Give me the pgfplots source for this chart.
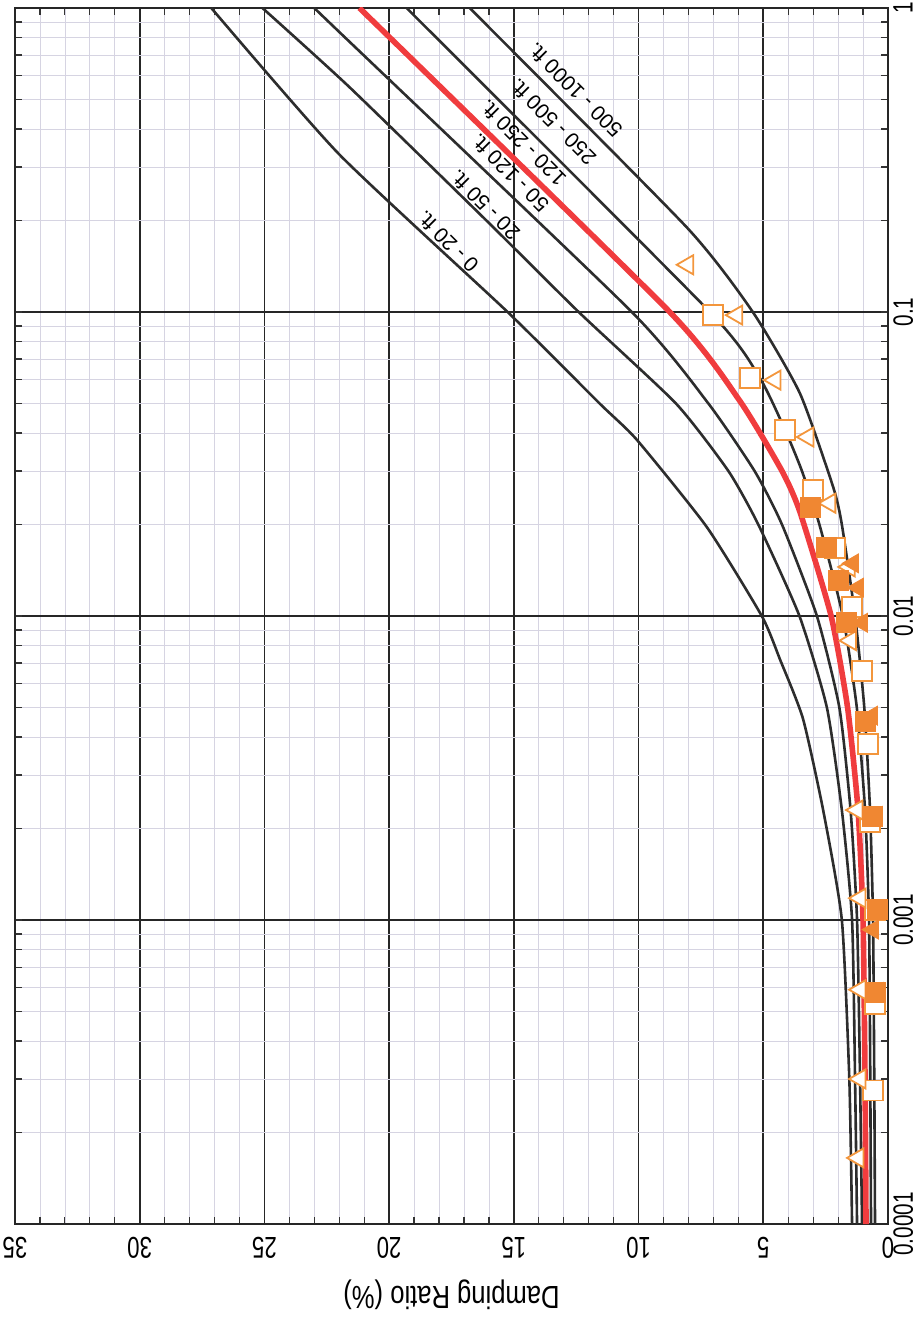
\documentclass[border=0pt]{standalone}
\usepackage{fontspec}
\setmainfont{Liberation Sans}
\newfontfamily\narrowtick{Liberation Sans}[FakeStretch=0.74]
\newfontfamily\narrowlab{Liberation Sans}[FakeStretch=0.8]
\usepackage{pgfplots}
\pgfplotsset{compat=1.18}
\definecolor{gridminor}{RGB}{214,212,226}
\definecolor{curvec}{RGB}{45,45,45}
\definecolor{redc}{RGB}{240,60,62}
\definecolor{orng}{RGB}{243,150,60}
\definecolor{orngf}{RGB}{240,135,50}
\begin{document}
\begin{tikzpicture}
\begin{axis}[
  scale only axis, width=436.5pt, height=608pt,
  x dir=reverse, xmin=0, xmax=35,
  ymode=log, ymin=1e-4, ymax=1,
  xtick={0,5,...,35}, minor x tick num=4,
  ytick={1e-4,1e-3,1e-2,1e-1,1},
  yticklabels={0.0001,0.001,0.01,0.1,1},
  yticklabel pos=right, ytick pos=both, xtick pos=both,
  /pgf/number format/assume math mode=true,
  xticklabel style={rotate=180, anchor=south, font=\narrowtick\fontsize{15}{17}\selectfont},
  yticklabel style={rotate=90, anchor=north, inner sep=1.5pt, font=\narrowtick\fontsize{14}{16}\selectfont},
  xticklabel shift=3pt,
  yticklabel shift=1pt,
  xlabel={Damping Ratio (\%)},
  xlabel style={rotate=180, anchor=south, font=\narrowlab\fontsize{16}{18}\selectfont},
  xlabel shift=4pt,
  grid=both,
  major grid style={black!85, line width=0.9pt},
  minor grid style={gridminor, line width=0.35pt},
  tick align=inside,
  major tick length=0pt,
  minor tick length=3.5pt,
  minor tick style={black!80, line width=0.6pt},
  axis line style={line width=1.4pt, black!85},
  curve/.style={curvec, line width=1.3pt, smooth, tension=0.35},
]
% 0-20 ft
\addplot[curve] table {
1.44 0.0001
1.55 0.0003
1.85 0.001
2.6 0.0023
3.41 0.0046
4.33 0.0072
5.06 0.01
7.26 0.0196
10.07 0.038
11.56 0.05
15.25 0.1
22.0 0.33
27.13 1
};
% 20-50 ft
\addplot[curve] table {
1.24 0.0001
1.32 0.0003
1.44 0.001
1.85 0.0023
2.45 0.005
3.55 0.01
5.2 0.02
6.4 0.03
8.5 0.05
12.4 0.1
16.1 0.2
21.6 0.55
25.08 1
};
% 50-120 ft
\addplot[curve] table {
1.04 0.0001
1.12 0.0003
1.24 0.001
1.5 0.0023
1.95 0.005
2.85 0.01
4.25 0.02
5.35 0.03
7.2 0.05
10.27 0.1
22.0 0.834
23.0 1
};
% 250-500 ft
\addplot[curve] table {
0.68 0.0001
0.71 0.0003
0.76 0.001
0.92 0.0023
1.25 0.005
1.81 0.01
2.75 0.02
3.45 0.03
4.13 0.041
5.14 0.0607
7.14 0.1
19.3 1
};
% 500-1000 ft
\addplot[curve] table {
0.52 0.0001
0.55 0.0003
0.6 0.001
0.72 0.0023
0.95 0.005
1.32 0.01
1.85 0.02
2.2 0.0266
3.53 0.054
5.42 0.1
8.07 0.19
16.77 1
};
% 120-250 ft (red)
\addplot[redc, line width=2.8pt, smooth, tension=0.35] table {
0.88 0.0001
0.92 0.0003
1.0 0.001
1.2 0.0023
1.62 0.005
2.28 0.01
3.53 0.022
4.25 0.03
5.94 0.051
8.75 0.1
21.19 1
};
% open squares
\addplot[only marks, mark=square*, mark size=5pt, mark options={fill=white, draw=orng, line width=0.9pt}] table {
7.02 0.0977
5.54 0.0607
4.13 0.041
3.01 0.026
2.13 0.0167
1.44 0.0107
1.04 0.0066
0.80 0.0038
0.72 0.0021
0.52 0.00108
0.52 0.00053
0.60 0.000275
};
% open triangles
\addplot[only marks, mark=triangle*, mark size=5.5pt, mark options={rotate=90, fill=white, draw=orng, line width=0.9pt}] table {
8.03 0.143
6.06 0.0977
4.53 0.0597
3.21 0.0388
2.33 0.0235
1.55 0.0145
1.50 0.0083
1.24 0.0023
1.12 0.00118
1.12 0.00059
1.12 0.0003
1.20 0.000165
};
% filled squares
\addplot[only marks, mark=square*, mark size=5pt, mark options={fill=orngf, draw=orngf}] table {
3.13 0.0228
2.45 0.0168
2.0 0.0131
1.65 0.0095
0.92 0.0045
0.64 0.0022
0.44 0.00108
0.52 0.00058
};
% filled triangles
\addplot[only marks, mark=triangle*, mark size=5.5pt, mark options={rotate=90, fill=orngf, draw=orngf}] table {
1.4 0.0149
1.2 0.0124
1.04 0.0095
0.64 0.0047
0.44 0.0022
0.6 0.00093
0.4 0.00058
};
\node[rotate=135, font=\fontsize{10.5}{12}\selectfont] at (axis cs:12.56,0.537) {500 - 1000 ft.};
\node[rotate=135, font=\fontsize{10.5}{12}\selectfont] at (axis cs:13.44,0.422) {250 - 500 ft.};
\node[rotate=135, font=\fontsize{10.5}{12}\selectfont] at (axis cs:14.65,0.36) {120 - 250 ft.};
\node[rotate=135, font=\fontsize{10.5}{12}\selectfont] at (axis cs:15.17,0.287) {50 - 120 ft.};
\node[rotate=135, font=\fontsize{10.5}{12}\selectfont] at (axis cs:16.17,0.225) {20 - 50 ft.};
\node[rotate=135, font=\fontsize{10.5}{12}\selectfont] at (axis cs:17.66,0.17) {0 - 20 ft.};
\end{axis}
\pgfresetboundingbox
\path (current axis.south west) ++(-7.5pt,-46.5pt) rectangle ++(459.5pt,658.5pt);
\end{tikzpicture}
\end{document}
